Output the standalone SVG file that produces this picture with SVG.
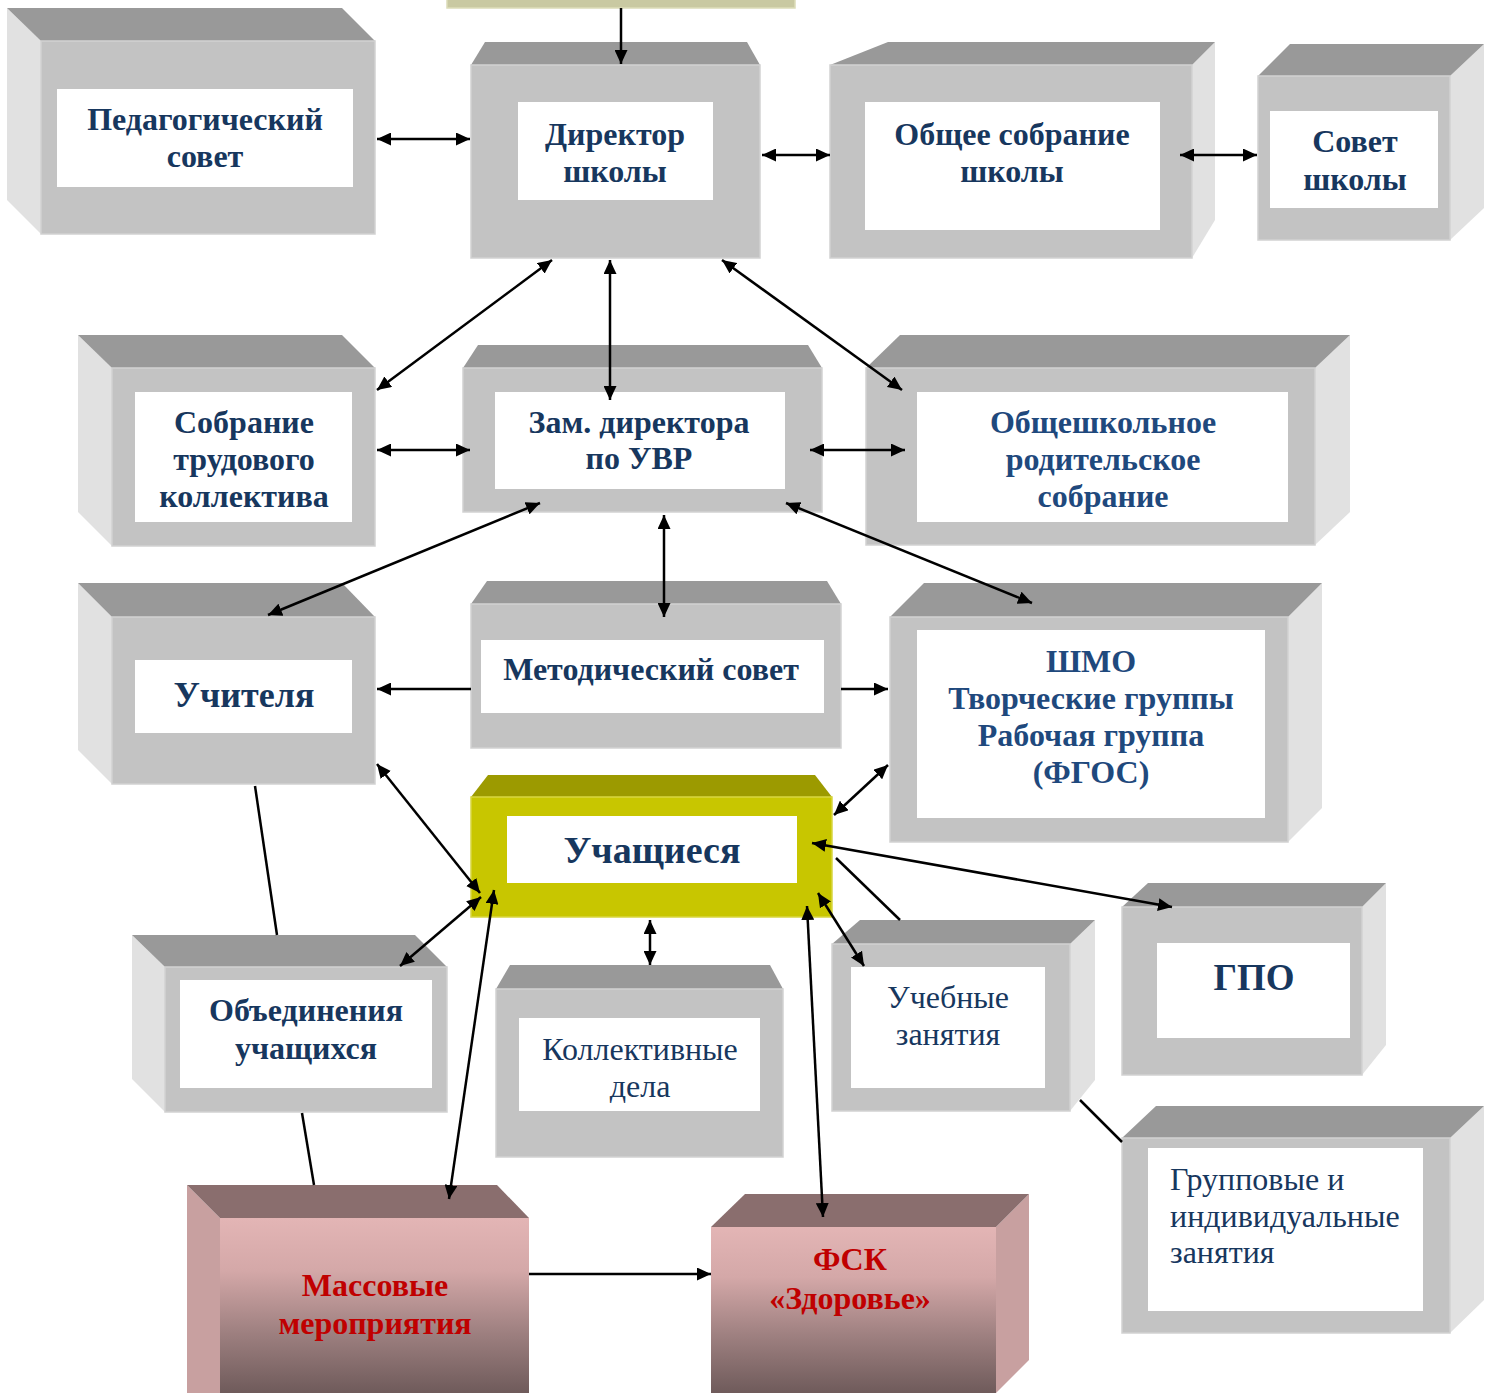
<svg xmlns="http://www.w3.org/2000/svg" width="1494" height="1393" viewBox="0 0 1494 1393">
<style>
.top{fill:#999999}
.front{fill:#c3c3c3;stroke:#d2d2d2;stroke-width:1.5}
.side{fill:#e1e1e1}
.inner{fill:#ffffff}
.t{font-family:"Liberation Serif","Times New Roman",serif;font-weight:bold;font-size:32px;fill:#17375e;text-anchor:middle}
.r{font-weight:normal}
.red{fill:#c00000}
.conn{stroke:#000;stroke-width:2.5;fill:none}
.both{marker-start:url(#ah);marker-end:url(#ah)}
.one{marker-end:url(#ah)}
</style>
<defs>
<marker id="ah" viewBox="0 0 14 13" refX="14" refY="6.5" markerWidth="14" markerHeight="13" markerUnits="userSpaceOnUse" orient="auto-start-reverse">
<path d="M0,0 L14,6.5 L0,13 z" fill="#000"/>
</marker>
<linearGradient id="pink" x1="0" y1="0" x2="0" y2="1">
<stop offset="0" stop-color="#e3b5b5"/>
<stop offset="0.3" stop-color="#d4a8a8"/>
<stop offset="0.65" stop-color="#9e8080"/>
<stop offset="1" stop-color="#6e5a5a"/>
</linearGradient>
</defs>

<rect x="447" y="-2" width="348" height="10" fill="#c9c9a2" stroke="#dcdcb8" stroke-width="1.5"/>

<g id="ped-sovet">
<polygon class="side" points="7,8 41,41 41,234 7,200"/>
<polygon class="top" points="7,8 342,8 375,41 41,41"/>
<rect class="front" x="41" y="41" width="334" height="193"/>
<rect class="inner" x="57" y="89" width="296" height="98"/>
<text class="t" x="205" y="130">Педагогический</text>
<text class="t" x="205" y="167">совет</text>
</g>

<g id="direktor">
<polygon class="top" points="485,42 747,42 760,65 471,65"/>
<rect class="front" x="471" y="65" width="289" height="193"/>
<rect class="inner" x="518" y="102" width="195" height="98"/>
<text class="t" x="615" y="145">Директор</text>
<text class="t" x="615" y="182">школы</text>
</g>

<g id="obshee-sobranie">
<polygon class="side" points="1192,65 1215,42 1215,220 1192,258"/>
<polygon class="top" points="830,65 888,42 1215,42 1192,65"/>
<rect class="front" x="830" y="65" width="362" height="193"/>
<rect class="inner" x="865" y="102" width="295" height="128"/>
<text class="t" x="1012" y="145">Общее собрание</text>
<text class="t" x="1012" y="182">школы</text>
</g>

<g id="sovet-shkoly">
<polygon class="side" points="1450,76 1484,44 1484,208 1450,240"/>
<polygon class="top" points="1258,76 1290,44 1484,44 1450,76"/>
<rect class="front" x="1258" y="76" width="192" height="164"/>
<rect class="inner" x="1270" y="111" width="168" height="97"/>
<text class="t" x="1355" y="152">Совет</text>
<text class="t" x="1355" y="190">школы</text>
</g>

<g id="sobranie-trud">
<polygon class="side" points="78,335 112,368 112,546 78,512"/>
<polygon class="top" points="78,335 342,335 375,368 112,368"/>
<rect class="front" x="112" y="368" width="263" height="178"/>
<rect class="inner" x="135" y="392" width="217" height="130"/>
<text class="t" x="244" y="433">Собрание</text>
<text class="t" x="244" y="470">трудового</text>
<text class="t" x="244" y="507">коллектива</text>
</g>

<g id="zam-uvr">
<polygon class="top" points="478,345 808,345 822,368 463,368"/>
<rect class="front" x="463" y="368" width="359" height="144"/>
<rect class="inner" x="495" y="392" width="290" height="97"/>
<text class="t" x="639" y="433">Зам. директора</text>
<text class="t" x="639" y="469">по УВР</text>
</g>

<g id="roditelskoe">
<polygon class="side" points="1315,368 1350,335 1350,512 1315,545"/>
<polygon class="top" points="866,368 900,335 1350,335 1315,368"/>
<rect class="front" x="866" y="368" width="449" height="177"/>
<rect class="inner" x="917" y="392" width="371" height="130"/>
<text class="t" x="1103" y="433" style="fill:#1f497d">Общешкольное</text>
<text class="t" x="1103" y="470" style="fill:#1f497d">родительское</text>
<text class="t" x="1103" y="507" style="fill:#1f497d">собрание</text>
</g>

<g id="uchitelya">
<polygon class="side" points="78,583 112,617 112,784 78,750"/>
<polygon class="top" points="78,583 342,583 375,617 112,617"/>
<rect class="front" x="112" y="617" width="263" height="167"/>
<rect class="inner" x="135" y="660" width="217" height="73"/>
<text class="t" x="244" y="707" style="font-size:36px">Учителя</text>
</g>

<g id="metod-sovet">
<polygon class="top" points="487,581 827,581 841,604 471,604"/>
<rect class="front" x="471" y="604" width="370" height="144"/>
<rect class="inner" x="481" y="640" width="343" height="73"/>
<text class="t" x="651" y="680">Методический совет</text>
</g>

<g id="shmo">
<polygon class="side" points="1288,617 1322,583 1322,808 1288,842"/>
<polygon class="top" points="890,617 924,583 1322,583 1288,617"/>
<rect class="front" x="890" y="617" width="398" height="225"/>
<rect class="inner" x="917" y="630" width="348" height="188"/>
<text class="t" x="1091" y="672" style="fill:#1f497d">ШМО</text>
<text class="t" x="1091" y="709" style="fill:#1f497d">Творческие группы</text>
<text class="t" x="1091" y="746" style="fill:#1f497d">Рабочая группа</text>
<text class="t" x="1091" y="783" style="fill:#1f497d">(ФГОС)</text>
</g>

<g id="uchashiesya">
<polygon points="488,775 815,775 832,797 471,797" fill="#9c9a00"/>
<rect x="471" y="797" width="361" height="120" fill="#c8c600" stroke="#d8d640" stroke-width="1.5"/>
<rect class="inner" x="507" y="816" width="290" height="67"/>
<text class="t" x="652" y="863" style="font-size:38px">Учащиеся</text>
</g>

<g id="gpo">
<polygon class="side" points="1362,907 1386,883 1386,1045 1362,1075"/>
<polygon class="top" points="1122,907 1148,883 1386,883 1362,907"/>
<rect class="front" x="1122" y="907" width="240" height="168"/>
<rect class="inner" x="1157" y="943" width="193" height="95"/>
<text class="t" x="1254" y="990" style="font-size:37px">ГПО</text>
</g>

<g id="obedineniya">
<polygon class="side" points="132,935 165,967 165,1112 132,1079"/>
<polygon class="top" points="132,935 415,935 447,967 165,967"/>
<rect class="front" x="165" y="967" width="282" height="145"/>
<rect class="inner" x="180" y="980" width="252" height="108"/>
<text class="t" x="306" y="1021">Объединения</text>
<text class="t" x="306" y="1059">учащихся</text>
</g>

<g id="kollektivnye">
<polygon class="top" points="510,965 770,965 783,989 496,989"/>
<rect class="front" x="496" y="989" width="287" height="168"/>
<rect class="inner" x="519" y="1018" width="241" height="93"/>
<text class="t r" x="640" y="1060">Коллективные</text>
<text class="t r" x="640" y="1097">дела</text>
</g>

<g id="uchebnye">
<polygon class="side" points="1070,944 1095,920 1095,1080 1070,1111"/>
<polygon class="top" points="832,944 860,920 1095,920 1070,944"/>
<rect class="front" x="832" y="944" width="238" height="167"/>
<rect class="inner" x="851" y="967" width="194" height="121"/>
<text class="t r" x="948" y="1008">Учебные</text>
<text class="t r" x="948" y="1045">занятия</text>
</g>

<g id="gruppovye">
<polygon class="side" points="1450,1138 1484,1106 1484,1300 1450,1333"/>
<polygon class="top" points="1122,1138 1156,1106 1484,1106 1450,1138"/>
<rect class="front" x="1122" y="1138" width="328" height="195"/>
<rect class="inner" x="1148" y="1148" width="275" height="163"/>
<text class="t r" x="1170" y="1190" style="text-anchor:start">Групповые и</text>
<text class="t r" x="1170" y="1227" style="text-anchor:start">индивидуальные</text>
<text class="t r" x="1170" y="1263" style="text-anchor:start">занятия</text>
</g>

<g id="massovye">
<polygon points="187,1185 220,1218 220,1393 187,1393" fill="#c8a0a0"/>
<polygon points="187,1185 497,1185 529,1218 220,1218" fill="#8a6e6e"/>
<rect x="220" y="1218" width="309" height="176" fill="url(#pink)"/>
<text class="t red" x="375" y="1296">Массовые</text>
<text class="t red" x="375" y="1334">мероприятия</text>
</g>

<g id="fsk">
<polygon points="996,1227 1029,1194 1029,1360 996,1393" fill="#c8a0a0"/>
<polygon points="711,1227 745,1194 1029,1194 996,1227" fill="#8a6e6e"/>
<rect x="711" y="1227" width="285" height="167" fill="url(#pink)"/>
<text class="t red" x="850" y="1270">ФСК</text>
<text class="t red" x="850" y="1309">«Здоровье»</text>
</g>

<g id="connectors">
<path class="conn one" d="M621,8 L621,64"/>
<path class="conn both" d="M377,139 L470,139"/>
<path class="conn both" d="M762,155 L830,155"/>
<path class="conn both" d="M1180,155 L1257,155"/>
<path class="conn both" d="M552,260 L377,390"/>
<path class="conn both" d="M610,260 L610,400"/>
<path class="conn both" d="M722,260 L902,390"/>
<path class="conn both" d="M377,450 L470,450"/>
<path class="conn both" d="M810,450 L905,450"/>
<path class="conn both" d="M540,503 L268,615"/>
<path class="conn both" d="M664,515 L664,617"/>
<path class="conn both" d="M786,503 L1032,603"/>
<path class="conn one" d="M471,689 L377,689"/>
<path class="conn one" d="M841,689 L888,689"/>
<path class="conn both" d="M888,765 L834,815"/>
<path class="conn both" d="M377,764 L480,893"/>
<path class="conn" d="M255,786 L277,935"/>
<path class="conn" d="M302,1113 L314,1185"/>
<path class="conn both" d="M481,897 L400,966"/>
<path class="conn both" d="M494,890 L449,1199"/>
<path class="conn both" d="M650,920 L650,965"/>
<path class="conn both" d="M807,906 L823,1217"/>
<path class="conn both" d="M818,893 L864,966"/>
<path class="conn both" d="M812,843 L1172,907"/>
<path class="conn" d="M836,858 L900,920"/>
<path class="conn" d="M1080,1100 L1122,1142"/>
<path class="conn one" d="M529,1274 L711,1274"/>
</g>
</svg>
